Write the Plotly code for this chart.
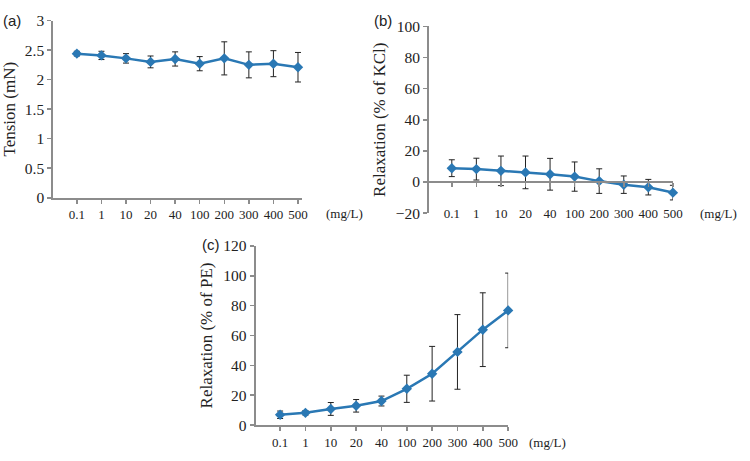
import plotly.graph_objects as go

conc_labels = ["0.1", "1", "10", "20", "40", "100", "200", "300", "400", "500"]
idx = list(range(len(conc_labels)))

tension = [2.44, 2.41, 2.36, 2.30, 2.35, 2.27, 2.36, 2.25, 2.27, 2.21]
tension_err = [0.04, 0.07, 0.08, 0.10, 0.12, 0.12, 0.28, 0.22, 0.22, 0.25]

relax_kcl = [8.9, 8.3, 7.2, 6.2, 5.0, 3.5, 0.6, -1.7, -3.3, -6.8]
relax_kcl_err = [5.4, 7.0, 9.5, 10.5, 10.2, 9.4, 7.9, 5.6, 5.0, 4.7]

relax_pe = [6.9, 8.2, 10.8, 12.9, 16.1, 24.3, 34.4, 49.0, 63.9, 76.8]
relax_pe_err = [2.5, 1.5, 4.3, 4.2, 3.3, 9.1, 18.3, 25.0, 24.7, 25.0]

W, H = 750, 461
LINE = "#2a78b4"
AX = "#8c8c8c"
SERIF = "Liberation Serif"
SANS = "Liberation Sans"

def px(x):
    return x / W

def py(y):
    return 1 - y / H

fig = go.Figure()

def add_series(y, err, xa, ya):
    fig.add_trace(go.Scatter(
        x=idx, y=y, xaxis=xa, yaxis=ya, mode="lines+markers",
        line=dict(color=LINE, width=2.5),
        marker=dict(symbol="diamond", size=8, color=LINE),
        error_y=dict(type="data", array=err, visible=True, color="#222222",
                     thickness=1, width=3),
        cliponaxis=False, showlegend=False, hoverinfo="skip"))

add_series(tension, tension_err, "x", "y")
add_series(relax_kcl, relax_kcl_err, "x2", "y2")
add_series(relax_pe, relax_pe_err, "x3", "y3")

tickfont = dict(family=SERIF, size=13, color="#222222")
ytickfont = dict(family=SERIF, size=15.5, color="#222222")
titlefont = dict(family=SERIF, size=17, color="#222222")

def xaxis(dom, rng, anchor, showline=True, position=None):
    d = dict(domain=dom, range=rng, anchor=anchor, tickmode="array",
             tickvals=idx, ticktext=conc_labels, showgrid=False,
             zeroline=False, showline=showline, linecolor=AX, linewidth=2,
             ticks="outside" if showline else "", ticklen=4, tickcolor=AX,
             tickwidth=1.5, tickfont=tickfont)
    if position is not None:
        d["position"] = position
    return d

def yaxis(dom, rng, anchor, dtick, title):
    return dict(domain=dom, range=rng, anchor=anchor, dtick=dtick,
                showgrid=False, zeroline=False, showline=True, linecolor=AX,
                linewidth=2, ticks="outside", ticklen=4, tickcolor=AX,
                tickwidth=1.5, tickfont=ytickfont,
                title=dict(text=title, font=titlefont, standoff=6))

fig.update_layout(
    width=W, height=H, margin=dict(l=0, r=0, t=0, b=0),
    paper_bgcolor="white", plot_bgcolor="white",
    xaxis=xaxis([px(54), px(306)], [-0.96, 9.16], "y"),
    yaxis=yaxis([py(196), py(12)], [0, 3], "x", 0.5, "Tension (mN)"),
    xaxis2=xaxis([px(435), px(682)], [-0.92, 9.0], "free", showline=False,
                 position=py(202)),
    yaxis2=yaxis([py(212), py(18)], [-20, 100], "x2", 20, "Relaxation (% of KCl)"),
    xaxis3=xaxis([px(259), px(515)], [-0.97, 9.0], "y3"),
    yaxis3=yaxis([py(432), py(246)], [0, 120], "x3", 20, "Relaxation (% of PE)"),
    xaxis4=dict(domain=[px(435), px(682)], range=[-0.92, 9.0], anchor="free",
                overlaying="x2", position=py(180), tickmode="array",
                tickvals=idx, showticklabels=False, showgrid=False,
                zeroline=False, showline=True, linecolor=AX, linewidth=2,
                ticks="outside", ticklen=4, tickcolor=AX, tickwidth=1.5),
)
# empty trace so that the zero-line axis of panel (b) is drawn
fig.add_trace(go.Scatter(x=[None], y=[None], xaxis="x4", yaxis="y2",
                         showlegend=False, hoverinfo="skip"))

annos = [
    dict(text="(a)", x=px(1), y=py(12), font=dict(family=SANS, size=15)),
    dict(text="(b)", x=px(377), y=py(12), font=dict(family=SANS, size=15)),
    dict(text="(c)", x=px(203), y=py(245), font=dict(family=SANS, size=15)),
    dict(text="(mg/L)", x=px(328), y=py(212), font=dict(family=SERIF, size=13)),
    dict(text="(mg/L)", x=px(707), y=py(212), font=dict(family=SERIF, size=13)),
    dict(text="(mg/L)", x=px(534), y=py(450), font=dict(family=SERIF, size=13)),
]
for a in annos:
    a.update(xref="paper", yref="paper", showarrow=False, xanchor="left",
             yanchor="middle")
    a["font"]["color"] = "#222222"
    fig.add_annotation(**a)

fig.write_html("out.html",
               config={"displayModeBar": False, "staticPlot": True},
               post_script="document.body.style.margin='0';"
                           "document.body.style.padding='0';")
